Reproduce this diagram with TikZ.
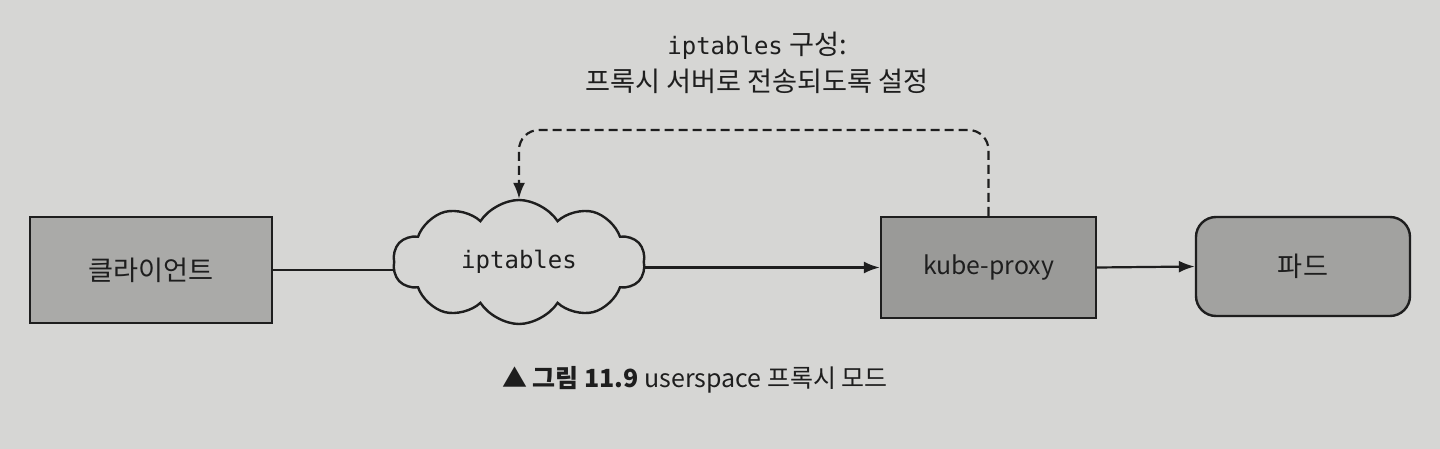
\documentclass[tikz,border=0pt]{standalone}
\usepackage{fontspec}
\setmainfont{Noto Sans CJK KR}
\newfontfamily\monofont{DejaVu Sans Mono}
\usetikzlibrary{shapes.symbols,arrows.meta}
\definecolor{bg}{RGB}{214,214,212}
\definecolor{clientfill}{RGB}{170,170,168}
\definecolor{proxyfill}{RGB}{154,154,152}
\definecolor{podfill}{RGB}{162,162,160}
\definecolor{ink}{RGB}{30,30,30}
\tikzset{
  box/.style={draw=ink, line width=1.2pt, font=\fontsize{13.6}{15}\selectfont, text=ink, inner sep=0pt},
  conn/.style={draw=ink, line width=1.1pt},
  tip/.style={-{Latex[length=8pt,width=6pt]}},
}
\begin{document}
\begin{tikzpicture}[x=0.5pt,y=-0.5pt]
\useasboundingbox[fill=bg] (0,0) rectangle (1440,449);
\node[box, fill=clientfill, minimum width=121pt, minimum height=53pt] (client) at (151,270) {클라이언트};
\node[cloud, draw=ink, line width=1.2pt, fill=bg, cloud puffs=10, cloud puff arc=115, aspect=2, minimum width=126pt, minimum height=62pt, inner sep=0pt, font=\monofont\fontsize{12}{14}\selectfont, text=ink] (cl) at (519,262) {iptables};
\node[box, fill=proxyfill, minimum width=107.5pt, minimum height=50.5pt, font=\fontsize{12.4}{14}\selectfont] (kp) at (988.5,267.5) {kube-proxy};
\node[box, fill=podfill, rounded corners=10pt, minimum width=107pt, minimum height=49.5pt] (pod) at (1303,266.5) {파드};
\draw[conn] (client.east) -- (client.east -| cl.west);
\draw[conn, tip] (cl.east |- kp.west) -- (kp.west);
\draw[conn, tip] (kp.east) -- (pod.west);
\coordinate (top) at (0,130);
\draw[conn, tip, dash pattern=on 4.5pt off 2.5pt, rounded corners=10pt] (kp.north) -- (kp.north |- top) -- (cl.north |- top) -- (cl.north);
\node[font=\fontsize{13.6}{18.5}\selectfont, text=ink, align=center] (lbl) at (757,63) {{\monofont\fontsize{12}{14}\selectfont iptables} 구성:\\프록시 서버로 전송되도록 설정};
\node[font=\fontsize{12.5}{14}\selectfont, text=ink] (cap) at (695,380) {▲ {\bfseries 그림 11.9} userspace 프록시 모드};
\end{tikzpicture}
\end{document}
